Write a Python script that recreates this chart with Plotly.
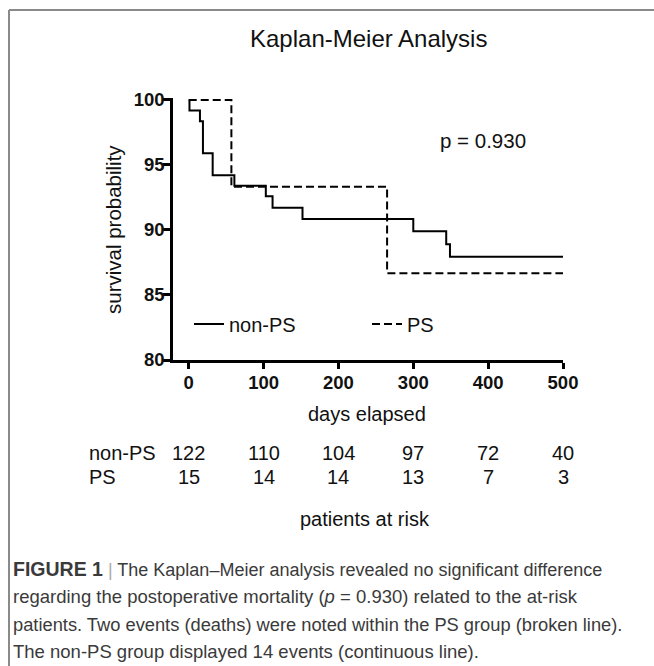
import plotly.graph_objects as go

# ---------------- data ----------------
nonps_days = [0, 1, 15, 19, 32, 61, 103, 112, 152, 300, 344, 349, 500]
nonps_surv = [100, 99.18, 98.36, 95.90, 94.20, 93.40, 92.60, 91.70, 90.85, 89.90, 88.90, 87.95, 87.95]
ps_days = [0, 57, 265, 500]
ps_surv = [100, 93.33, 86.67, 86.67]
risk_days = [0, 100, 200, 300, 400, 500]
risk_nonps = [122, 110, 104, 97, 72, 40]
risk_ps = [15, 14, 14, 13, 7, 3]
x_ticks = [0, 100, 200, 300, 400, 500]
y_ticks = [80, 85, 90, 95, 100]
group_names = ["non-PS", "PS"]
p_text = "p = 0.930"

# ---------------- layout geometry ----------------
W, H = 654, 666
L, R, T, B = 173, 91, 98, 306
PW = W - L - R
PH = H - T - B


def px(x):
    return (x - L) / PW


def py(y):
    return 1 - (y - T) / PH


FONT = "Liberation Sans, Arial, sans-serif"

fig = go.Figure()
fig.add_trace(go.Scatter(
    x=ps_days, y=ps_surv, mode="lines", line_shape="hv", name=group_names[1],
    line=dict(color="black", width=2, dash="8px,4px"), cliponaxis=False,
))
fig.add_trace(go.Scatter(
    x=nonps_days, y=nonps_surv, mode="lines", line_shape="hv", name=group_names[0],
    line=dict(color="black", width=2), cliponaxis=False,
))

ann = []
# title
ann.append(dict(text="Kaplan-Meier Analysis", xref="paper", yref="paper", x=px(368), y=py(38),
                xanchor="center", yanchor="middle", showarrow=False,
                font=dict(family=FONT, size=24, color="#111")))
# axis titles
ann.append(dict(text="survival probability", xref="paper", yref="paper", x=px(113), y=py(230),
                xanchor="center", yanchor="middle", textangle=-90, showarrow=False,
                font=dict(family=FONT, size=20.5, color="#111")))
ann.append(dict(text="days elapsed", xref="paper", yref="paper", x=px(367), y=py(414),
                xanchor="center", yanchor="middle", showarrow=False,
                font=dict(family=FONT, size=20, color="#111")))
# p value
ann.append(dict(text=p_text, xref="x", yref="y", x=393, y=96.85,
                xanchor="center", yanchor="middle", showarrow=False,
                font=dict(family=FONT, size=20.5, color="#111")))
# at-risk table
for label, row, ypix in [(group_names[0], risk_nonps, 453), (group_names[1], risk_ps, 477)]:
    ann.append(dict(text=label, xref="paper", yref="paper", x=px(87), y=py(ypix),
                    xanchor="left", yanchor="middle", showarrow=False,
                    font=dict(family=FONT, size=20, color="#111")))
    for d, n in zip(risk_days, row):
        ann.append(dict(text=str(n), xref="x", yref="paper", x=d, y=py(ypix),
                        xanchor="center", yanchor="middle", showarrow=False,
                        font=dict(family=FONT, size=20, color="#111")))
ann.append(dict(text="patients at risk", xref="paper", yref="paper", x=px(365), y=py(519),
                xanchor="center", yanchor="middle", showarrow=False,
                font=dict(family=FONT, size=20, color="#111")))

# caption
cap_lines = [
    "<b><span style='font-size:19.5px'>FIGURE 1</span></b> <span style='color:#aaaaaa'>|</span> The Kaplan–Meier analysis revealed no significant difference",
    "regarding the postoperative mortality (<i>p</i> = 0.930) related to the at-risk",
    "patients. Two events (deaths) were noted within the PS group (broken line).",
    "The non-PS group displayed 14 events (continuous line).",
]
cap_sizes = [18.0, 18.5, 18.3, 18.5]
for line, ypix, fs in zip(cap_lines, [569, 596, 624, 651], cap_sizes):
    ann.append(dict(text=line, xref="paper", yref="paper", x=px(11), y=py(ypix),
                    xanchor="left", yanchor="middle", showarrow=False, align="left",
                    font=dict(family=FONT, size=fs, color="#3a3a3a")))

shapes = [
    dict(type="line", xref="paper", yref="paper", x0=px(9), x1=px(W + 2), y0=py(10), y1=py(10),
         line=dict(color="#8a8a8a", width=2)),
    dict(type="line", xref="paper", yref="paper", x0=px(9), x1=px(9), y0=py(10), y1=py(H + 2),
         line=dict(color="#8a8a8a", width=2)),
]

fig.update_layout(
    width=W, height=H,
    margin=dict(l=L, r=R, t=T, b=B, pad=0),
    paper_bgcolor="white", plot_bgcolor="white",
    font=dict(family=FONT, color="#111"),
    showlegend=True,
    legend=dict(orientation="h", x=px(189), y=py(324), xanchor="left", yanchor="middle",
                itemwidth=30, entrywidth=133, traceorder="reversed",
                font=dict(family=FONT, size=20, color="#111"), bgcolor="rgba(0,0,0,0)"),
    annotations=ann,
    shapes=shapes,
    xaxis=dict(range=[-21, 500], tickvals=x_ticks, showgrid=False, zeroline=False,
               showline=True, linecolor="black", linewidth=2.6,
               ticks="outside", ticklen=6, tickwidth=2.6, tickcolor="black",
               ticklabelstandoff=-2,
               tickfont=dict(family=FONT, size=18.5, weight="bold", color="#111")),
    yaxis=dict(range=[80, 100.15], tickvals=y_ticks, showgrid=False, zeroline=False,
               showline=True, linecolor="black", linewidth=2.6,
               ticks="outside", ticklen=7, tickwidth=2.6, tickcolor="black",
               ticklabelstandoff=-5,
               tickfont=dict(family=FONT, size=18.5, weight="bold", color="#111")),
)

fig.write_html("out.html", config={"displayModeBar": False},
               post_script="document.body.style.margin='0';")
